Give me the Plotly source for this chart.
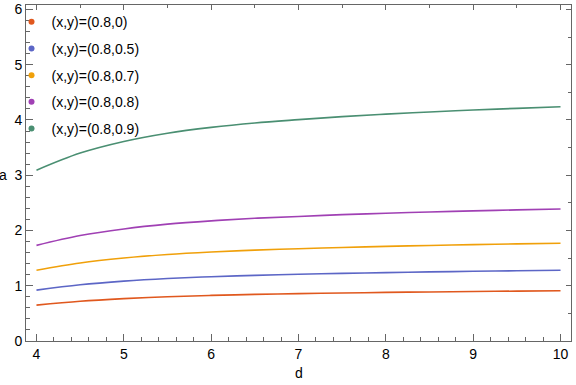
import plotly.graph_objects as go

# d values sampled along the curves
d = [4, 4.5, 5, 5.5, 6, 6.5, 7, 7.5, 8, 8.5, 9, 9.5, 10]

a_y0 = [0.65, 0.72, 0.767, 0.801, 0.825, 0.843, 0.857, 0.869, 0.879, 0.888, 0.896, 0.903, 0.91]
a_y05 = [0.92, 1.017, 1.083, 1.13, 1.163, 1.188, 1.207, 1.224, 1.238, 1.25, 1.261, 1.271, 1.28]
a_y07 = [1.28, 1.412, 1.501, 1.565, 1.61, 1.644, 1.67, 1.693, 1.712, 1.729, 1.744, 1.757, 1.77]
a_y08 = [1.73, 1.908, 2.028, 2.114, 2.174, 2.22, 2.254, 2.286, 2.312, 2.335, 2.355, 2.372, 2.389]
a_y09 = [3.09, 3.40, 3.61, 3.76, 3.865, 3.945, 4.005, 4.06, 4.105, 4.145, 4.18, 4.21, 4.24]

names = ["(x,y)=(0.8,0)", "(x,y)=(0.8,0.5)", "(x,y)=(0.8,0.7)",
         "(x,y)=(0.8,0.8)", "(x,y)=(0.8,0.9)"]
series = [a_y0, a_y05, a_y07, a_y08, a_y09]
colors = ["#e0581e", "#5c66c6", "#f0a00a", "#a040b4", "#4a8f72"]

FONT = "Liberation Sans, Arial, sans-serif"
AX = "#666666"

fig = go.Figure()
for i, (name, vals, col) in enumerate(zip(names, series, colors)):
    fig.add_trace(go.Scatter(
        x=d, y=vals, mode="lines", line=dict(color=col, width=1.6, shape="spline"),
        showlegend=False, legendgroup=f"g{i}", hoverinfo="skip",
    ))
    # dot-only entry for the legend
    fig.add_trace(go.Scatter(
        x=[None], y=[None], mode="markers", name=name,
        marker=dict(color=col, size=6), legendgroup=f"g{i}",
    ))

# invisible copy so the top/right frame axes get drawn
fig.add_trace(go.Scatter(x=d, y=a_y0, xaxis="x2", yaxis="y2", mode="lines",
                         opacity=0, showlegend=False, hoverinfo="skip"))

fig.update_layout(
    width=576, height=385,
    margin=dict(l=26, r=5, t=5, b=44, autoexpand=False),
    paper_bgcolor="white", plot_bgcolor="white",
    font=dict(family=FONT, size=14, color="black"),
    xaxis=dict(
        range=[3.88, 10.12], dtick=1, tick0=0, showgrid=False, zeroline=False,
        showline=True, linecolor=AX, linewidth=1,
        ticks="inside", ticklen=7, tickcolor=AX,
        minor=dict(ticks="inside", ticklen=4, dtick=0.2, tickcolor=AX, showgrid=False),
    ),
    yaxis=dict(
        range=[0, 6.08], dtick=1, tick0=0, showgrid=False, zeroline=False,
        showline=True, linecolor=AX, linewidth=1,
        ticks="inside", ticklen=7, tickcolor=AX,
        minor=dict(ticks="inside", ticklen=4, dtick=0.2, tickcolor=AX, showgrid=False),
    ),
    xaxis2=dict(
        overlaying="x", side="top", range=[3.88, 10.12], showticklabels=False,
        showgrid=False, zeroline=False, showline=True, linecolor=AX,
        dtick=1, tick0=0, ticks="inside", ticklen=5, tickcolor=AX,
        minor=dict(ticks="inside", ticklen=3, dtick=0.5, tickcolor=AX, showgrid=False),
    ),
    yaxis2=dict(
        overlaying="y", side="right", range=[0, 6.08], showticklabels=False,
        showgrid=False, zeroline=False, showline=True, linecolor=AX,
        dtick=1, tick0=0, ticks="inside", ticklen=5, tickcolor=AX,
        minor=dict(ticks="inside", ticklen=3, dtick=0.5, tickcolor=AX, showgrid=False),
    ),
    legend=dict(
        xref="container", yref="container", x=0.02, y=0.984,
        xanchor="left", yanchor="top", bgcolor="rgba(0,0,0,0)",
        font=dict(size=14), tracegroupgap=5.5, itemwidth=30,
    ),
    annotations=[
        dict(text="a", xref="paper", yref="y", x=0, y=3, xshift=-17, xanchor="right",
             showarrow=False, font=dict(size=14)),
        dict(text="d", xref="x", yref="paper", x=7, y=0, yshift=-22, yanchor="top",
             showarrow=False, font=dict(size=14)),
    ],
)

# drop the page's default body margin so the figure sits at the top-left corner
fig.write_html("out.html", config={"displayModeBar": False},
               post_script="document.body.style.margin='0';")
